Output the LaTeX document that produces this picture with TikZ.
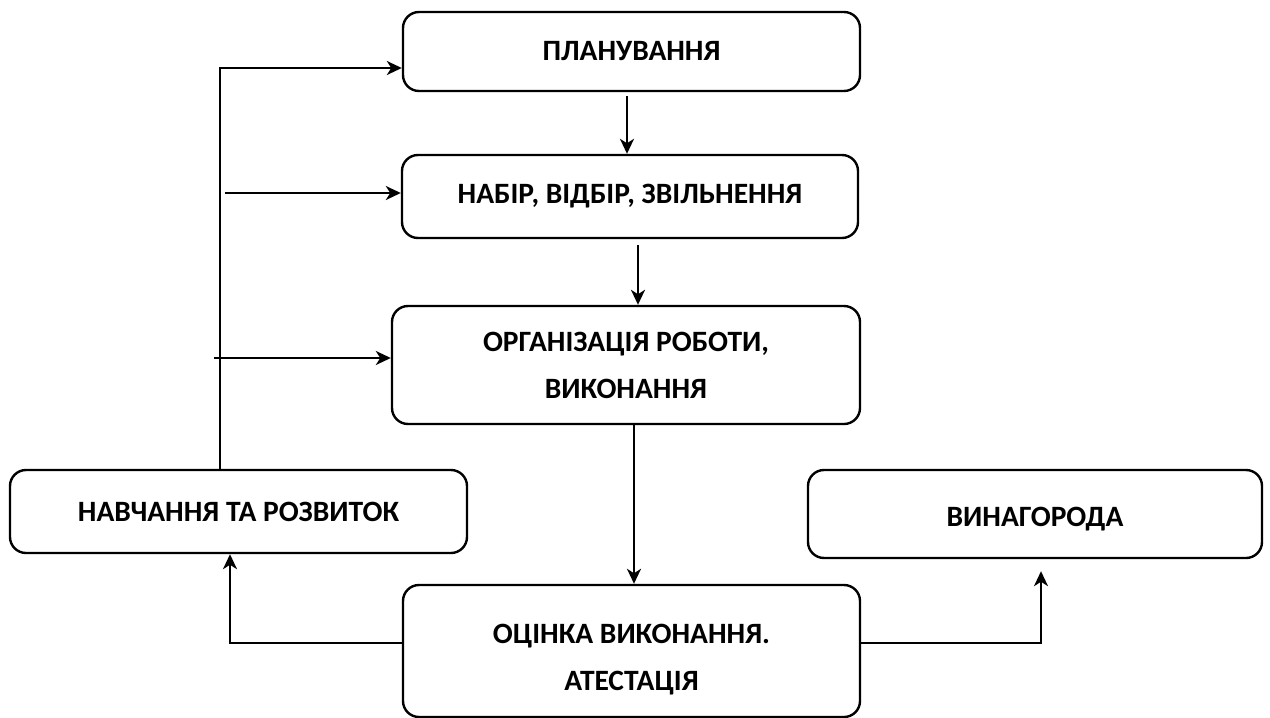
\documentclass[tikz,border=0pt]{standalone}
\usepackage{fontspec}
\setmainfont{Carlito}
\usetikzlibrary{arrows.meta}
\tikzset{
  lbl/.style={align=center, font=\fontsize{29.5}{47}\selectfont\bfseries, inner sep=0pt},
  box/.style={draw, line width=2.4pt, rounded corners=16pt, lbl},
  arr/.style={line width=2.4pt, -{Stealth[length=15pt,width=14pt,inset=4.5pt]}}
}
\begin{document}
\begin{tikzpicture}[x=1pt,y=-1pt]
\useasboundingbox (0,0) rectangle (1270,718);
% boxes
\node[box, minimum width=457pt, minimum height=79pt]  (plan)   at (631.5,51.5) {ПЛАНУВАННЯ};
\node[box, minimum width=456pt, minimum height=83pt]  (hire)   at (630,196.5)  {НАБІР, ВІДБІР, ЗВІЛЬНЕННЯ};
\node[box, minimum width=468pt, minimum height=118pt] (org)    at (626,365)    {ОРГАНІЗАЦІЯ РОБОТИ,\\ВИКОНАННЯ};
\node[box, minimum width=457pt, minimum height=83pt]  (train)  at (238.5,511.5) {НАВЧАННЯ ТА РОЗВИТОК};
\node[box, minimum width=454pt, minimum height=88pt]  (reward) at (1035,514)   {};
\node[lbl] (rewardt) at ([yshift=-5pt]reward.center) {ВИНАГОРОДА};
\node[box, minimum width=457pt, minimum height=132pt] (eval)   at (631.5,651)  {};
\node[lbl] (evalt) at ([yshift=-9pt]eval.center) {ОЦІНКА ВИКОНАННЯ.\\АТЕСТАЦІЯ};
% main chain
\draw[arr] ([yshift=-4pt]plan.south -| 627,0) -- (hire.north -| 627,0);
\draw[arr] ([yshift=-6pt]hire.south -| 638,0) -- (org.north -| 638,0);
\draw[arr] (org.south -| 634,0) -- (eval.north -| 634,0);
% feedback from training
\draw[arr] (train.north -| 220,0) |- ([yshift=-16.5pt]plan.west);
\draw[arr] ([yshift=3.5pt]hire.west -| 225,0) -- ([yshift=3.5pt]hire.west);
\draw[arr] ([yshift=7pt]org.west -| 214,0) -- ([yshift=7pt]org.west);
% outputs of evaluation
\draw[arr] ([yshift=8pt]eval.west) -| (train.south -| 230,0);
\draw[arr] ([yshift=8pt]eval.east) -| ([yshift=-12pt]reward.south -| 1041,0);
\end{tikzpicture}
\end{document}
